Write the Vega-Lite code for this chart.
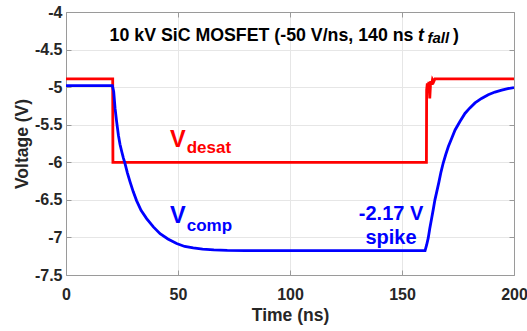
{
  "$schema": "https://vega.github.io/schema/vega-lite/v6.json",
  "width": 448,
  "height": 263,
  "autosize": {"type": "none"},
  "padding": {"left": 66, "top": 12, "right": 13, "bottom": 56},
  "background": "white",
  "config": {
    "font": "Liberation Sans",
    "view": {"stroke": null},
    "axis": {
      "labelFont": "Liberation Sans",
      "labelFontWeight": "bold",
      "labelFontSize": 16,
      "labelColor": "#262626",
      "titleFont": "Liberation Sans",
      "titleFontWeight": "bold",
      "titleFontSize": 17.5,
      "titleColor": "#262626",
      "domainColor": "#9a9a9a",
      "domainWidth": 1,
      "tickColor": "#9a9a9a",
      "tickSize": -5,
      "gridColor": "#e6e6e6",
      "gridWidth": 1
    }
  },
  "datasets": {
    "traces": [
      {"series": "desat", "t": 0, "v": -4.89},
      {"series": "desat", "t": 20.85, "v": -4.89},
      {"series": "desat", "t": 20.95, "v": -6.0},
      {"series": "desat", "t": 160.9, "v": -6.0},
      {"series": "desat", "t": 161.0, "v": -5.04},
      {"series": "desat", "t": 161.3, "v": -4.95},
      {"series": "desat", "t": 161.6, "v": -5.06},
      {"series": "desat", "t": 162.0, "v": -4.93},
      {"series": "desat", "t": 162.4, "v": -5.15},
      {"series": "desat", "t": 162.8, "v": -4.92},
      {"series": "desat", "t": 163.2, "v": -4.97},
      {"series": "desat", "t": 163.6, "v": -4.9},
      {"series": "desat", "t": 164.1, "v": -4.93},
      {"series": "desat", "t": 164.7, "v": -4.89},
      {"series": "desat", "t": 200, "v": -4.89},
      {"series": "comp", "t": 0, "v": -4.98},
      {"series": "comp", "t": 20.7, "v": -4.98},
      {"series": "comp", "t": 21.3, "v": -5.06},
      {"series": "comp", "t": 21.9, "v": -5.28},
      {"series": "comp", "t": 22.6, "v": -5.46},
      {"series": "comp", "t": 23.4, "v": -5.64},
      {"series": "comp", "t": 24.1, "v": -5.76},
      {"series": "comp", "t": 24.9, "v": -5.86},
      {"series": "comp", "t": 25.6, "v": -5.94},
      {"series": "comp", "t": 26.3, "v": -6.01},
      {"series": "comp", "t": 27.4, "v": -6.14},
      {"series": "comp", "t": 28.6, "v": -6.26},
      {"series": "comp", "t": 30.0, "v": -6.39},
      {"series": "comp", "t": 31.5, "v": -6.51},
      {"series": "comp", "t": 33.5, "v": -6.64},
      {"series": "comp", "t": 36.0, "v": -6.75},
      {"series": "comp", "t": 39.0, "v": -6.86},
      {"series": "comp", "t": 42.0, "v": -6.95},
      {"series": "comp", "t": 45.5, "v": -7.02},
      {"series": "comp", "t": 49.4, "v": -7.08},
      {"series": "comp", "t": 53.0, "v": -7.12},
      {"series": "comp", "t": 56.8, "v": -7.14},
      {"series": "comp", "t": 61.0, "v": -7.155},
      {"series": "comp", "t": 66.0, "v": -7.165},
      {"series": "comp", "t": 72.0, "v": -7.172},
      {"series": "comp", "t": 80.0, "v": -7.175},
      {"series": "comp", "t": 120.0, "v": -7.175},
      {"series": "comp", "t": 160.3, "v": -7.175},
      {"series": "comp", "t": 161.0, "v": -7.1},
      {"series": "comp", "t": 161.7, "v": -7.01},
      {"series": "comp", "t": 162.4, "v": -6.88},
      {"series": "comp", "t": 163.2, "v": -6.75},
      {"series": "comp", "t": 164.0, "v": -6.62},
      {"series": "comp", "t": 164.7, "v": -6.5},
      {"series": "comp", "t": 165.6, "v": -6.38},
      {"series": "comp", "t": 166.5, "v": -6.26},
      {"series": "comp", "t": 167.4, "v": -6.13},
      {"series": "comp", "t": 168.4, "v": -6.01},
      {"series": "comp", "t": 169.5, "v": -5.9},
      {"series": "comp", "t": 170.7, "v": -5.79},
      {"series": "comp", "t": 172.2, "v": -5.68},
      {"series": "comp", "t": 173.7, "v": -5.57},
      {"series": "comp", "t": 175.8, "v": -5.46},
      {"series": "comp", "t": 178.1, "v": -5.35},
      {"series": "comp", "t": 180.2, "v": -5.28},
      {"series": "comp", "t": 182.6, "v": -5.21},
      {"series": "comp", "t": 185.5, "v": -5.15},
      {"series": "comp", "t": 188.5, "v": -5.1},
      {"series": "comp", "t": 191.5, "v": -5.065},
      {"series": "comp", "t": 194.5, "v": -5.04},
      {"series": "comp", "t": 197.2, "v": -5.02},
      {"series": "comp", "t": 200.0, "v": -5.005}
    ],
    "labels": [
      {"kind": "title", "series": "none", "t": 155.1, "v": -4.386, "text": "10 kV SiC MOSFET (-50 V/ns, 140 ns"},
      {"kind": "titleItalic", "series": "none", "t": 157.1, "v": -4.386, "text": "t"},
      {"kind": "titleSub", "series": "none", "t": 161.4, "v": -4.417, "text": "fall"},
      {"kind": "titleClose", "series": "none", "t": 172.8, "v": -4.386, "text": ")"},
      {"kind": "big", "series": "desat", "t": 46.4, "v": -5.794, "text": "V"},
      {"kind": "sub", "series": "desat", "t": 53.9, "v": -5.881, "text": "desat"},
      {"kind": "big", "series": "comp", "t": 46.4, "v": -6.81, "text": "V"},
      {"kind": "sub", "series": "comp", "t": 53.9, "v": -6.92, "text": "comp"},
      {"kind": "spike", "series": "comp", "t": 145.1, "v": -6.77, "text": "-2.17 V"},
      {"kind": "spike", "series": "comp", "t": 145.1, "v": -7.09, "text": "spike"}
    ]
  },
  "layer": [
    {
      "data": {"name": "traces"},
      "transform": [{"filter": "datum.series === 'desat'"}],
      "mark": {"type": "line", "color": "#ff0000", "strokeWidth": 2.8, "clip": true},
      "encoding": {
        "x": {
          "field": "t", "type": "quantitative",
          "scale": {"domain": [0, 200], "nice": false},
          "axis": {"orient": "bottom", "values": [0, 50, 100, 150, 200], "title": "Time (ns)", "grid": true, "labelPadding": 16, "titlePadding": 4, "labelFlush": false}
        },
        "y": {
          "field": "v", "type": "quantitative",
          "scale": {"domain": [-7.5, -4], "nice": false, "zero": false},
          "axis": {"orient": "left", "values": [-7.5, -7, -6.5, -6, -5.5, -5, -4.5, -4], "labelExpr": "'' + datum.value", "title": "Voltage (V)", "grid": true, "labelPadding": 9, "titlePadding": 3}
        }
      }
    },
    {
      "data": {"name": "traces"},
      "transform": [{"filter": "datum.series === 'comp'"}],
      "mark": {"type": "line", "color": "#0000ff", "strokeWidth": 2.8, "clip": true},
      "encoding": {
        "x": {"field": "t", "type": "quantitative", "axis": null},
        "y": {"field": "v", "type": "quantitative", "axis": null}
      }
    },
    {
      "data": {"name": "traces"},
      "mark": {"type": "point", "opacity": 0},
      "encoding": {
        "x": {"field": "t", "type": "quantitative", "axis": {"orient": "top", "values": [0, 50, 100, 150, 200], "labels": false, "grid": false, "title": null}},
        "y": {"field": "v", "type": "quantitative", "axis": {"orient": "right", "values": [-7.5, -7, -6.5, -6, -5.5, -5, -4.5, -4], "labels": false, "grid": false, "title": null}}
      }
    },
    {
      "data": {"name": "labels"},
      "transform": [{"filter": "datum.kind === 'title'"}],
      "mark": {"type": "text", "align": "right", "baseline": "alphabetic", "fontSize": 17.75, "fontWeight": "bold", "color": "#000000"},
      "encoding": {
        "x": {"field": "t", "type": "quantitative", "axis": null},
        "y": {"field": "v", "type": "quantitative", "axis": null},
        "text": {"field": "text"}
      }
    },
    {
      "data": {"name": "labels"},
      "transform": [{"filter": "datum.kind === 'titleItalic'"}],
      "mark": {"type": "text", "align": "left", "baseline": "alphabetic", "fontSize": 17.75, "fontWeight": "bold", "fontStyle": "italic", "color": "#000000"},
      "encoding": {
        "x": {"field": "t", "type": "quantitative", "axis": null},
        "y": {"field": "v", "type": "quantitative", "axis": null},
        "text": {"field": "text"}
      }
    },
    {
      "data": {"name": "labels"},
      "transform": [{"filter": "datum.kind === 'titleSub'"}],
      "mark": {"type": "text", "align": "left", "baseline": "alphabetic", "fontSize": 15, "fontWeight": "bold", "fontStyle": "italic", "color": "#000000"},
      "encoding": {
        "x": {"field": "t", "type": "quantitative", "axis": null},
        "y": {"field": "v", "type": "quantitative", "axis": null},
        "text": {"field": "text"}
      }
    },
    {
      "data": {"name": "labels"},
      "transform": [{"filter": "datum.kind === 'titleClose'"}],
      "mark": {"type": "text", "align": "left", "baseline": "alphabetic", "fontSize": 17.75, "fontWeight": "bold", "color": "#000000"},
      "encoding": {
        "x": {"field": "t", "type": "quantitative", "axis": null},
        "y": {"field": "v", "type": "quantitative", "axis": null},
        "text": {"field": "text"}
      }
    },
    {
      "data": {"name": "labels"},
      "transform": [{"filter": "datum.kind === 'big'"}],
      "mark": {"type": "text", "align": "left", "baseline": "alphabetic", "fontSize": 23.5, "fontWeight": "bold"},
      "encoding": {
        "x": {"field": "t", "type": "quantitative", "axis": null},
        "y": {"field": "v", "type": "quantitative", "axis": null},
        "text": {"field": "text"},
        "color": {"field": "series", "type": "nominal", "scale": {"domain": ["desat", "comp"], "range": ["#ff0000", "#0000ff"]}, "legend": null}
      }
    },
    {
      "data": {"name": "labels"},
      "transform": [{"filter": "datum.kind === 'sub'"}],
      "mark": {"type": "text", "align": "left", "baseline": "alphabetic", "fontSize": 17, "fontWeight": "bold"},
      "encoding": {
        "x": {"field": "t", "type": "quantitative", "axis": null},
        "y": {"field": "v", "type": "quantitative", "axis": null},
        "text": {"field": "text"},
        "color": {"field": "series", "type": "nominal", "scale": {"domain": ["desat", "comp"], "range": ["#ff0000", "#0000ff"]}, "legend": null}
      }
    },
    {
      "data": {"name": "labels"},
      "transform": [{"filter": "datum.kind === 'spike'"}],
      "mark": {"type": "text", "align": "center", "baseline": "alphabetic", "fontSize": 20, "fontWeight": "bold"},
      "encoding": {
        "x": {"field": "t", "type": "quantitative", "axis": null},
        "y": {"field": "v", "type": "quantitative", "axis": null},
        "text": {"field": "text"},
        "color": {"field": "series", "type": "nominal", "scale": {"domain": ["desat", "comp"], "range": ["#ff0000", "#0000ff"]}, "legend": null}
      }
    }
  ],
  "resolve": {"axis": {"x": "independent", "y": "independent"}}
}
